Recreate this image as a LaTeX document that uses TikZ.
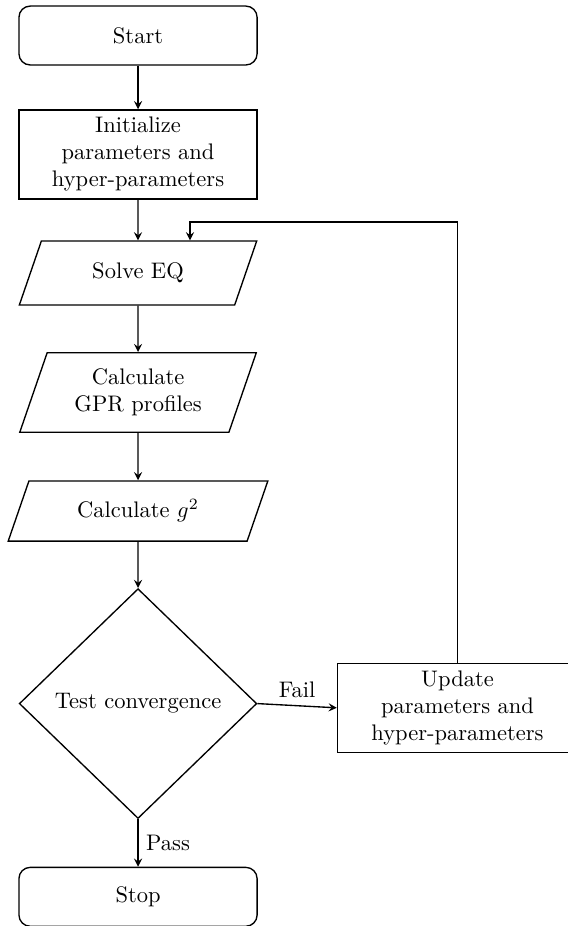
\documentclass[tikz,border=0pt]{standalone}
\usetikzlibrary{shapes.geometric}
\tikzstyle{term}=[shape=rectangle,
                  rounded corners=5pt,
                  draw=black,
                  minimum width=3.72cm,
                  minimum height=0.92cm]
\tikzstyle{proc}=[shape=rectangle,
                  draw=black,
                  align=center,
                  minimum width=3.72cm,
                  minimum height=1.39cm]
\tikzstyle{io}=[shape=trapezium,
                trapezium left angle=71,
                trapezium right angle=109,
                draw=black,
                align=center,
                minimum width=3.71cm,
                minimum height=0.97cm]
\tikzstyle{dec}=[shape=diamond,
                 draw=black,
                 inner sep=0pt,
                 minimum width=3.71cm,
                 minimum height=3.59cm]
\begin{document}
\begin{tikzpicture}[>=stealth,semithick]
\useasboundingbox (0,0) rectangle (8.857,-14.464);

% main column
\node[term] (start) at (2.156,-0.555)  {Start};
\node[proc] (init) at (2.156,-2.413)   {Initialize\\parameters and\\hyper-parameters};
\node[io] (solve) at (2.156,-4.264)    {Solve EQ};
\node[io,minimum height=1.19cm] (gpr) at (2.156,-6.131) {Calculate\\GPR profiles};
\node[io,minimum width=4.01cm,minimum height=0.94cm] (gsq) at (2.156,-7.982) {Calculate $g^2$};
\node[dec] (conv) at (2.156,-10.99)    {Test convergence};
\node[term] (stop) at (2.156,-14.008)  {Stop};

% update step
\node[proc,minimum width=3.75cm] (update) at (7.146,-11.056) {Update\\parameters and\\hyper-parameters};
\coordinate (back) at (2.968,-3.468);

% paths
\draw[->] (start) -- (init);
\draw[->] (init) -- (solve);
\draw[->] (solve) -- (gpr);
\draw[->] (gpr) -- (gsq);
\draw[->] (gsq) -- (conv);
\draw[->] (conv.east) -- node[above] {Fail} (update.west);
\draw[->] (conv) -- node[right] {Pass} (stop);
\draw[->] (update.north) |- (back) -- (back |- solve.north);

\end{tikzpicture}
\end{document}
